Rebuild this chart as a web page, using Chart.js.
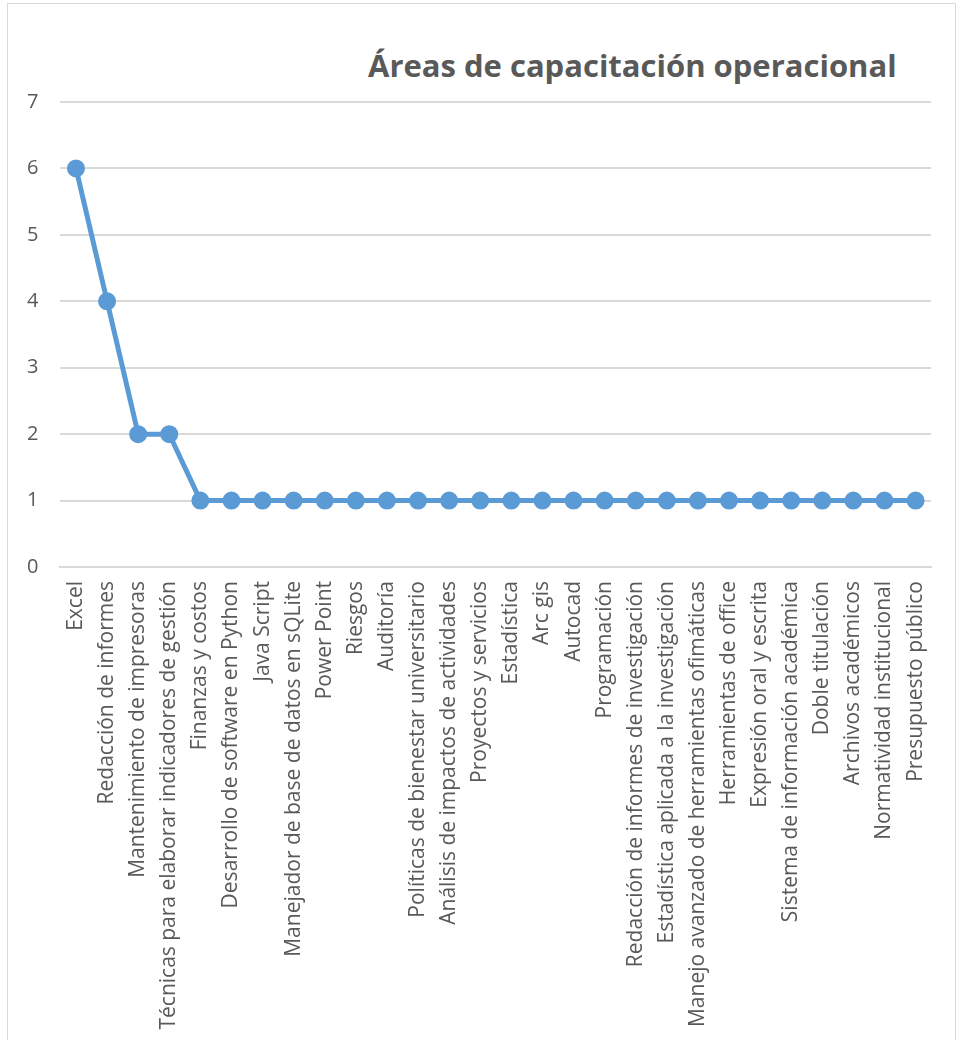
<!DOCTYPE html>
<html>
<head>
<meta charset="utf-8">
<script src="https://cdn.jsdelivr.net/npm/chart.js@4.4.0/dist/chart.umd.min.js"></script>
<style>
  html, body { margin: 0; padding: 0; background: #fff; }
  .frame {
    position: absolute; left: 7px; top: 3px; width: 947px; height: 1037px;
    border-left: 1px solid #d9d9d9; border-top: 1px solid #d9d9d9; border-right: 1px solid #d9d9d9;
  }
  .chart-title {
    position: absolute; left: 360px; top: 40px; margin: 0;
    font-family: "Open Sans", sans-serif; font-weight: 700; font-size: 31px;
    color: #595959; white-space: nowrap;
  }
  canvas { position: absolute; left: -3px; top: 0; }
</style>
</head>
<body>
<div class="frame">
  <h2 class="chart-title">Áreas de capacitación operacional</h2>
  <canvas id="chart" width="950" height="1037"></canvas>
</div>
<script>
// Áreas de capacitación y número de menciones
const areas = [
  'Excel', 'Redacción de informes', 'Mantenimiento de impresoras',
  'Técnicas para elaborar indicadores de gestión', 'Finanzas y costos',
  'Desarrollo de software en Python', 'Java Script', 'Manejador de base de datos en sQLite',
  'Power Point', 'Riesgos', 'Auditoría', 'Políticas de bienestar universitario',
  'Análisis de impactos de actividades', 'Proyectos y servicios', 'Estadística', 'Arc gis',
  'Autocad', 'Programación', 'Redacción de informes de investigación',
  'Estadística aplicada a la investigación', 'Manejo avanzado de herramientas ofimáticas',
  'Herramientas de office', 'Expresión oral y escrita', 'Sistema de información académica',
  'Doble titulación', 'Archivos académicos', 'Normatividad institucional', 'Presupuesto público'
];
const menciones = [6, 4, 2, 2, 1, 1, 1, 1, 1, 1, 1, 1, 1, 1, 1, 1, 1, 1, 1, 1, 1, 1, 1, 1, 1, 1, 1, 1];
const yTicks = [0, 1, 2, 3, 4, 5, 6, 7];

const lineColor = '#5B9BD5';
const textColor = '#595959';
const gridColor = '#d9d9d9';

new Chart(document.getElementById('chart'), {
  type: 'line',
  data: {
    labels: areas,
    datasets: [{
      label: 'Menciones',
      data: menciones,
      borderColor: lineColor,
      backgroundColor: lineColor,
      borderWidth: 5,
      pointRadius: 6.5,
      pointBackgroundColor: lineColor,
      pointBorderColor: lineColor,
      tension: 0
    }]
  },
  options: {
    responsive: false,
    animation: false,
    layout: { padding: { top: 98, right: 9, bottom: 9, left: 0 } },
    plugins: {
      legend: { display: false },
      title: { display: false },
      tooltip: { enabled: false }
    },
    scales: {
      x: {
        offset: true,
        grid: { display: false, drawTicks: false },
        border: { color: gridColor, width: 2 },
        ticks: {
          color: textColor,
          font: { family: 'Open Sans', size: 21 },
          minRotation: 90,
          maxRotation: 90,
          autoSkip: false,
          padding: 14
        }
      },
      y: {
        min: 0,
        max: 7,
        afterBuildTicks: (axis) => { axis.ticks = yTicks.map(v => ({ value: v })); },
        grid: { color: gridColor, lineWidth: 2, drawTicks: false },
        border: { display: false },
        ticks: {
          color: textColor,
          font: { family: 'Open Sans', size: 20 },
          padding: 22
        }
      }
    }
  }
});
</script>
</body>
</html>
